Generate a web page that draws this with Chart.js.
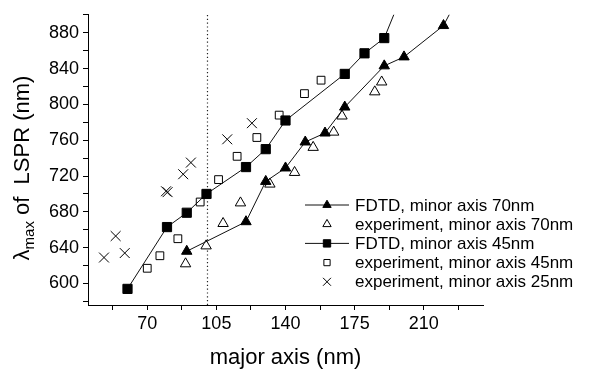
<!DOCTYPE html>
<html>
<head>
<meta charset="utf-8">
<script src="https://cdn.jsdelivr.net/npm/chart.js@4.4.0/dist/chart.umd.min.js"></script>
<style>
  html, body { margin: 0; padding: 0; background: #fff; }
  #wrap { width: 597px; height: 371px; }
</style>
</head>
<body>
<div id="wrap"><canvas id="lspr-chart" width="597" height="371"></canvas></div>
<script>
// values: major axis (nm) -> lambda max (nm)
const fdtd70X = [90, 120, 130, 140, 150, 160, 170, 190, 200, 220, 230];
const fdtd70Y = [636, 669, 714, 729, 758, 768, 797, 843, 853, 888, 930];
const exp70X = [89.4, 99.8, 108.4, 117.2, 132.1, 144.6, 154, 164.4, 168.6, 185.2, 188.7];
const exp70Y = [622, 642, 667, 690, 711, 724, 752, 769, 787, 814, 825];
const fdtd45X = [60, 80, 90, 100, 120, 130, 140, 170, 180, 190, 200];
const fdtd45Y = [594, 663, 679, 700, 730, 750, 782, 834, 857, 874, 928];
const exp45X = [70, 76.4, 85.5, 96.8, 106.1, 115.5, 125.5, 136.8, 149.6, 158];
const exp45Y = [617, 631, 650, 691, 716, 742, 763, 788, 812, 827];
const exp25X = [48.1, 54, 58.6, 79.5, 80.3, 88.2, 92.1, 110.5, 123];
const exp25Y = [629, 653, 634, 703, 702, 722, 735, 761, 779];
const dividerX = 100.5;

const xMajorTicks = [70, 105, 140, 175, 210];
const xMinorTicks = [52.5, 87.5, 122.5, 157.5, 192.5, 227.5];
const yMajorTicks = [600, 640, 680, 720, 760, 800, 840, 880];
const yMinorTicks = [580, 620, 660, 700, 740, 780, 820, 860, 900];

const xTitle = "major axis (nm)";
const yTitleSymbol = "λ";
const yTitleSub = "max";
const yTitleRest = " of  LSPR (nm)";

const FONT = "'Liberation Sans', Arial, Helvetica, sans-serif";

function zip(xs, ys) {
    return xs.map((x, i) => ({ x: x, y: ys[i] }));
}

function tickList(major, minor) {
    return major.concat(minor).sort((a, b) => a - b).map(v => ({ value: v }));
}

// legend drawn inside the plot, lower right
const insideLegend = {
    id: "insideLegend",
    afterDraw(chart) {
        const ctx = chart.ctx;
        const rows = chart.data.datasets.filter(d => d.inLegend).sort((a, b) => a.legendRow - b.legendRow);
        ctx.save();
        ctx.font = "17px " + FONT;
        ctx.textBaseline = "middle";
        rows.forEach((ds, i) => {
            const y = 205 + i * 19.2;
            const mx = 327;
            if (ds.showLine) {
                ctx.strokeStyle = "#111";
                ctx.lineWidth = 1;
                ctx.beginPath();
                ctx.moveTo(305, y);
                ctx.lineTo(349, y);
                ctx.stroke();
            }
            ctx.fillStyle = ds.pointBackgroundColor;
            ctx.strokeStyle = ds.pointBorderColor;
            ctx.lineWidth = 1;
            Chart.helpers.drawPoint(ctx, {
                pointStyle: ds.pointStyle,
                radius: ds.pointRadius * 0.8,
                rotation: 0,
                borderWidth: 1
            }, mx, y);
            ctx.fillStyle = "#000";
            ctx.fillText(ds.label, 355, y + 1);
        });
        ctx.restore();
    }
};

// y title with subscript
const yTitlePlugin = {
    id: "yTitle",
    afterDraw(chart) {
        const ctx = chart.ctx;
        const big = "22px " + FONT;
        const small = "15px " + FONT;
        ctx.save();
        ctx.font = big;
        const w1 = ctx.measureText(yTitleSymbol).width;
        const w3 = ctx.measureText(yTitleRest).width;
        ctx.font = small;
        const w2 = ctx.measureText(yTitleSub).width;
        const total = w1 + w2 + w3;
        ctx.translate(21, 168);
        ctx.rotate(-Math.PI / 2);
        ctx.fillStyle = "#000";
        ctx.textBaseline = "alphabetic";
        let x = -total / 2;
        ctx.font = big;
        ctx.fillText(yTitleSymbol, x, 8);
        x += w1;
        ctx.font = small;
        ctx.fillText(yTitleSub, x, 13);
        x += w2;
        ctx.font = big;
        ctx.fillText(yTitleRest, x, 8);
        ctx.restore();
    }
};

const ctx = document.getElementById("lspr-chart").getContext("2d");
new Chart(ctx, {
    type: "scatter",
    data: {
        datasets: [
            {
                label: "FDTD, minor axis 70nm",
                data: zip(fdtd70X, fdtd70Y),
                showLine: true,
                borderColor: "#111",
                borderWidth: 1,
                pointStyle: "triangle",
                pointRadius: 6,
                pointBackgroundColor: "#000",
                pointBorderColor: "#000",
                pointBorderWidth: 1,
                clip: 0,
                inLegend: true,
                legendRow: 0
            },
            {
                label: "FDTD, minor axis 45nm",
                data: zip(fdtd45X, fdtd45Y),
                showLine: true,
                borderColor: "#111",
                borderWidth: 1,
                pointStyle: "rect",
                pointRadius: 6.5,
                pointBackgroundColor: "#000",
                pointBorderColor: "#000",
                pointBorderWidth: 1,
                clip: 0,
                inLegend: true,
                legendRow: 2
            },
            {
                label: "experiment, minor axis 70nm",
                data: zip(exp70X, exp70Y),
                showLine: false,
                pointStyle: "triangle",
                pointRadius: 6,
                pointBackgroundColor: "#fff",
                pointBorderColor: "#000",
                pointBorderWidth: 1,
                inLegend: true,
                legendRow: 1
            },
            {
                label: "experiment, minor axis 45nm",
                data: zip(exp45X, exp45Y),
                showLine: false,
                pointStyle: "rect",
                pointRadius: 5.5,
                pointBackgroundColor: "#fff",
                pointBorderColor: "#000",
                pointBorderWidth: 1,
                inLegend: true,
                legendRow: 3
            },
            {
                label: "experiment, minor axis 25nm",
                data: zip(exp25X, exp25Y),
                showLine: false,
                pointStyle: "crossRot",
                pointRadius: 7,
                pointBackgroundColor: "#000",
                pointBorderColor: "#000",
                pointBorderWidth: 1,
                inLegend: true,
                legendRow: 4
            },
            {
                label: "divider",
                data: [{ x: dividerX, y: 576 }, { x: dividerX, y: 900 }],
                showLine: true,
                borderColor: "#222",
                borderWidth: 1.2,
                borderDash: [1.2, 2.6],
                pointRadius: 0,
                clip: 0
            }
        ]
    },
    options: {
        responsive: false,
        animation: false,
        devicePixelRatio: 1,
        layout: { padding: { top: 12, right: 114, bottom: 0, left: 0 } },
        plugins: {
            legend: { display: false },
            tooltip: { enabled: false }
        },
        scales: {
            x: {
                type: "linear",
                min: 40,
                max: 240,
                afterBuildTicks: s => { s.ticks = tickList(xMajorTicks, xMinorTicks); },
                afterFit: s => { s.height = 66; },
                ticks: {
                    callback: v => xMajorTicks.includes(v) ? String(v) : "",
                    autoSkip: false,
                    maxRotation: 0,
                    color: "#000",
                    padding: 3,
                    font: { family: FONT, size: 18 }
                },
                grid: { drawOnChartArea: false, tickLength: 5, tickColor: "#000", tickWidth: 1 },
                border: { display: true, color: "#000", width: 1 },
                title: {
                    display: true,
                    text: xTitle,
                    color: "#000",
                    font: { family: FONT, size: 22 },
                    padding: { top: 6, bottom: 0 }
                }
            },
            y: {
                type: "linear",
                min: 576,
                max: 900,
                afterBuildTicks: s => { s.ticks = tickList(yMajorTicks, yMinorTicks); },
                afterFit: s => { s.width = 88; },
                ticks: {
                    callback: v => yMajorTicks.includes(v) ? String(v) : "",
                    autoSkip: false,
                    color: "#000",
                    padding: 4,
                    font: { family: FONT, size: 18 }
                },
                grid: { drawOnChartArea: false, tickLength: 5, tickColor: "#000", tickWidth: 1 },
                border: { display: true, color: "#000", width: 1 }
            }
        }
    },
    plugins: [insideLegend, yTitlePlugin]
});
</script>
</body>
</html>
